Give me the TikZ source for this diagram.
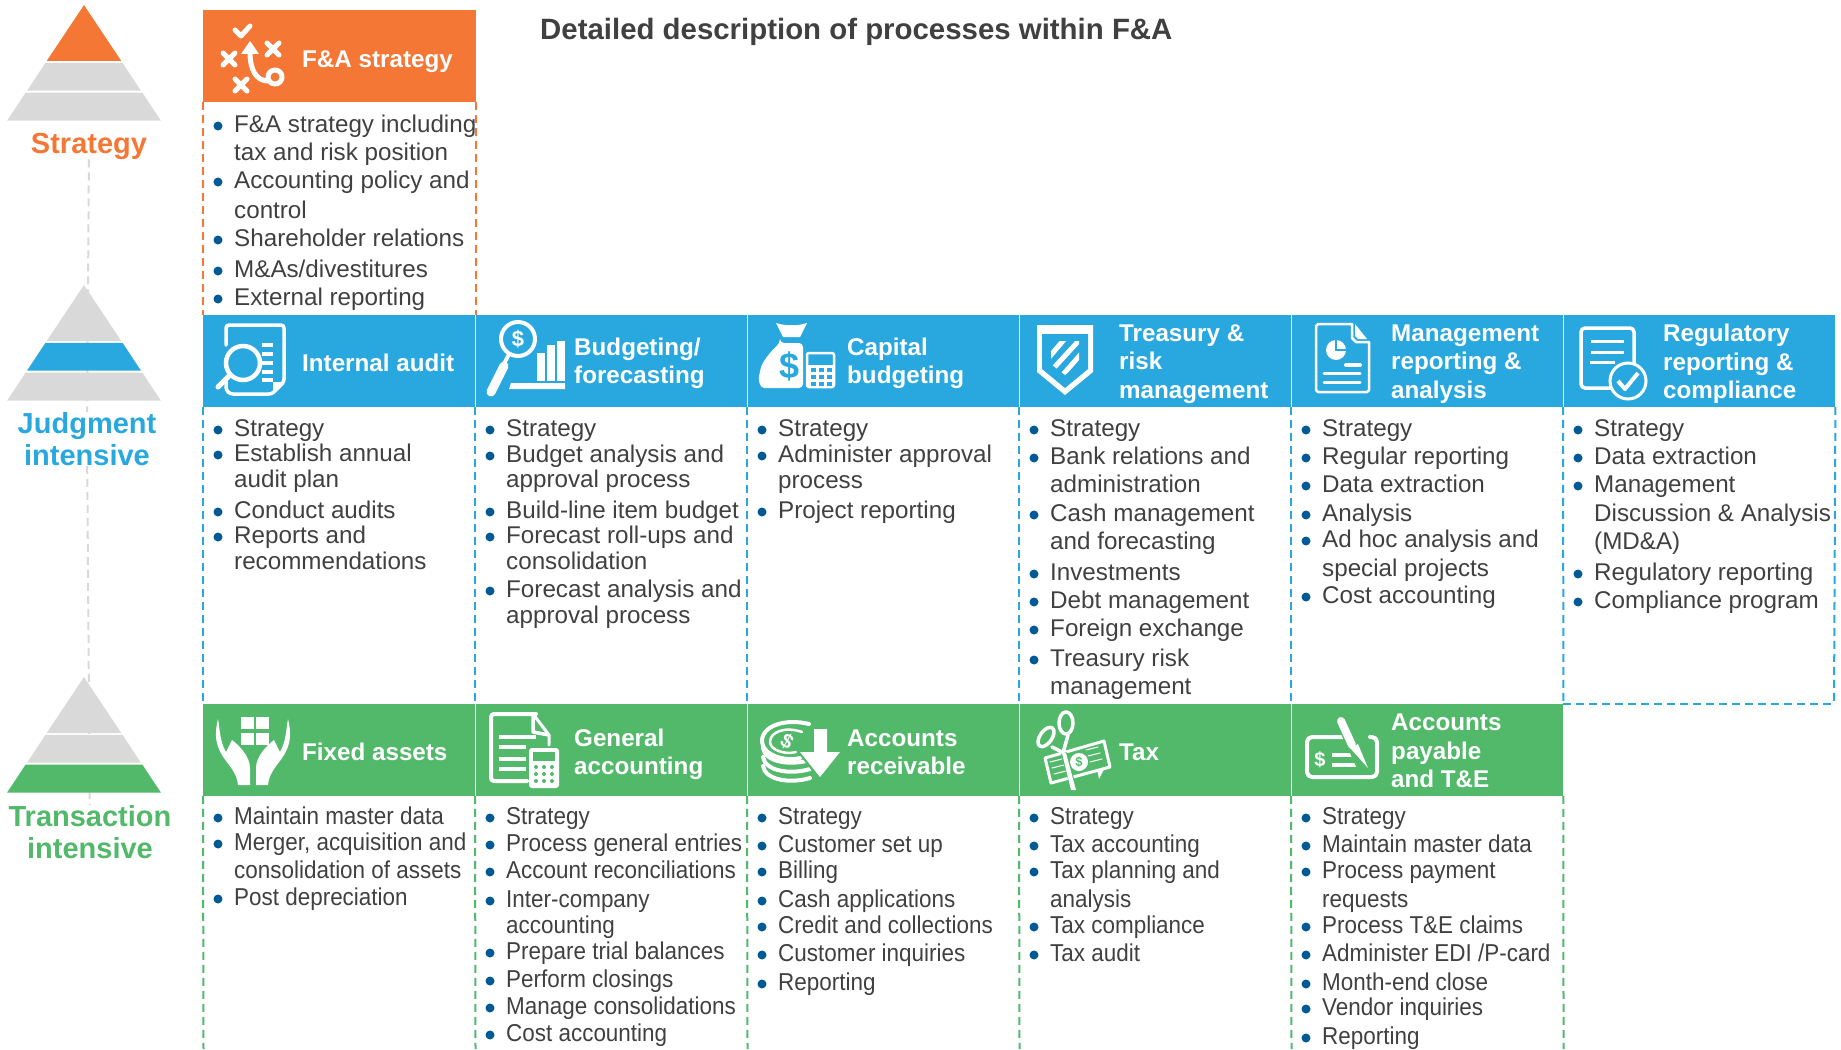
\documentclass[tikz,border=0pt]{standalone}
\usepackage{fontspec}
\setmainfont{Liberation Sans}
\newfontfamily\narrowfont[FakeStretch=0.92]{Liberation Sans}
\definecolor{orangecol}{HTML}{F47735}
\definecolor{bluecol}{HTML}{29A8E0}
\definecolor{greencol}{HTML}{52B96A}
\definecolor{greycol}{HTML}{D9D9D9}
\definecolor{textcol}{HTML}{404040}
\definecolor{dotcol}{HTML}{005A96}
\tikzstyle{head}=[anchor=north west, minimum width=272pt, minimum height=91.5pt, inner sep=0pt]
\tikzstyle{headtext}=[anchor=west, inner sep=0pt, align=left, text=white, font=\bfseries\fontsize{24.2}{28.4}\selectfont]
\tikzstyle{itemtext}=[anchor=west, inner sep=0pt, text=textcol, text height=16pt, text depth=0pt, font=\fontsize{24.2}{26}\selectfont]
\tikzstyle{dot}=[circle, fill=dotcol, inner sep=0pt, minimum size=9pt]
\tikzstyle{level}=[inner sep=0pt, align=center, font=\bfseries\fontsize{29}{32}\selectfont]
\tikzstyle{seam}=[dash pattern=on 8pt off 5pt, line width=2pt]
\tikzstyle{link}=[greycol, dash pattern=on 8pt off 5pt, line width=2pt]
\tikzstyle{icon}=[white, line width=4pt, line cap=round, line join=round]
\tikzstyle{glyph}=[inner sep=0pt, text=white, font=\bfseries\fontsize{20}{20}\selectfont]
\newcommand{\itemcol}[3]{
    \foreach \y/\txt in {#2} {
        \node[itemtext] (line-#1-\y) at (#1+31,\y) {\txt};
        \node[dot] (dot-#1-\y) at (#1+15,\y+2) {};
    }
    \foreach \y/\txt in {#3} {
        \node[itemtext] (line-#1-\y) at (#1+31,\y) {\txt};
    }
}
\newcommand{\pyramid}[4]{
    \begin{scope}[yshift=-#1pt]
        \fill[#2] (84,5) -- (121.3,61) -- (46.7,61) -- cycle;
        \fill[#3] (45.5,62.8) -- (122.5,62.8) -- (141,90.7) -- (27,90.7) -- cycle;
        \fill[#4] (25.6,92.7) -- (142.4,92.7) -- (161,120.7) -- (7,120.7) -- cycle;
    \end{scope}
}
\newcommand{\crossmark}[2]{
    \draw[icon, line width=5pt] (#1-6,#2-6) -- (#1+6,#2+6) (#1-6,#2+6) -- (#1+6,#2-6);
}
\begin{document}
\begin{tikzpicture}[x=1pt, y=-1pt]
    \useasboundingbox (0,0) rectangle (1841,1049);

    \node[inner sep=0pt, anchor=west, text=textcol, font=\bfseries\fontsize{29.4}{32}\selectfont] (title) at (540,32) {Detailed description of processes within F\&A};

    \node[level, text=orangecol] (strategy) at (89,146) {Strategy};
    \node[level, text=bluecol] (judgment) at (87,439) {Judgment\\intensive};
    \node[level, text=greencol] (transaction) at (90,832) {Transaction\\intensive};
    \draw[link] (strategy) -- (judgment);
    \draw[link] (judgment) -- (transaction);
    \pyramid{0}{orangecol}{greycol}{greycol}
    \pyramid{280}{greycol}{bluecol}{greycol}
    \pyramid{672}{greycol}{greycol}{greencol}

    \node[head, fill=orangecol, minimum width=273pt] (hStrategy) at (203,10) {};
    \node[head, fill=bluecol] (hAudit) at (203,315) {};
    \node[head, fill=bluecol] (hBudget) at (475,315) {};
    \node[head, fill=bluecol] (hCapital) at (747,315) {};
    \node[head, fill=bluecol] (hTreasury) at (1019,315) {};
    \node[head, fill=bluecol] (hManage) at (1291,315) {};
    \node[head, fill=bluecol] (hRegul) at (1563,315) {};
    \node[head, fill=greencol] (hAssets) at (203,704) {};
    \node[head, fill=greencol] (hGeneral) at (475,704) {};
    \node[head, fill=greencol] (hReceive) at (747,704) {};
    \node[head, fill=greencol] (hTax) at (1019,704) {};
    \node[head, fill=greencol] (hPayable) at (1291,704) {};
    \foreach \h in {hAudit,hBudget,hCapital,hTreasury,hManage,hAssets,hGeneral,hReceive,hTax}
        \draw[white, line width=1.2pt] (\h.north east) -- (\h.south east);

    \node[headtext] (tStrategy) at (302,62) {F\&A strategy};
    \node[headtext] (tAudit) at (302,363) {Internal audit};
    \node[headtext] (tBudget) at (574,363) {Budgeting/\\forecasting};
    \node[headtext] (tCapital) at (847,363) {Capital\\budgeting};
    \node[headtext] (tTreasury) at (1119,364) {Treasury \&\\risk\\management};
    \node[headtext] (tManage) at (1391,364) {Management\\reporting \&\\analysis};
    \node[headtext] (tRegul) at (1663,364) {Regulatory\\reporting \&\\compliance};
    \node[headtext] (tAssets) at (302,752) {Fixed assets};
    \node[headtext] (tGeneral) at (574,754) {General\\accounting};
    \node[headtext] (tReceive) at (847,752) {Accounts\\receivable};
    \node[headtext] (tTax) at (1119,752) {Tax};
    \node[headtext] (tPayable) at (1391,751) {Accounts\\payable\\and T\&E};

    \coordinate (regulEnd) at (1834,704);
    \coordinate (assetsEnd) at (203.5,1049);
    \coordinate (generalEnd) at (475.5,1049);
    \coordinate (receiveEnd) at (747.5,1049);
    \coordinate (taxEnd) at (1019.5,1049);
    \coordinate (payableEnd) at (1291.5,1049);
    \coordinate (lastEnd) at (1563.5,1049);
    \draw[seam, orangecol] (hStrategy.south west) -- (hAudit.north west);
    \draw[seam, orangecol] (hStrategy.south east) -- (hBudget.north east -| hStrategy.south east);
    \draw[seam, bluecol] (hAudit.south west) -- (hAssets.north west);
    \draw[seam, bluecol] (hBudget.south west) -- (hGeneral.north west);
    \draw[seam, bluecol] (hCapital.south west) -- (hReceive.north west);
    \draw[seam, bluecol] (hTreasury.south west) -- (hTax.north west);
    \draw[seam, bluecol] (hManage.south west) -- (hPayable.north west);
    \draw[seam, bluecol] (hRegul.south west) -- (hPayable.north east);
    \draw[seam, bluecol] (hRegul.south east) -- (regulEnd);
    \draw[seam, bluecol] (hPayable.north east) -- (regulEnd);
    \draw[seam, greencol] (hAssets.south west) -- (assetsEnd);
    \draw[seam, greencol] (hGeneral.south west) -- (generalEnd);
    \draw[seam, greencol] (hReceive.south west) -- (receiveEnd);
    \draw[seam, greencol] (hTax.south west) -- (taxEnd);
    \draw[seam, greencol] (hPayable.south west) -- (payableEnd);
    \draw[seam, greencol] (hPayable.south east) -- (lastEnd);

    \itemcol{203}{124/{F\&A strategy including},180/{Accounting policy and},238/{Shareholder relations},269/{M\&As/divestitures},297/{External reporting}}{152/{tax and risk position},210/{control}}
    \itemcol{203}{428/{Strategy},453/{Establish annual},510/{Conduct audits},535/{Reports and}}{479/{audit plan},561/{recommendations}}
    \itemcol{475}{428/{Strategy},454/{Budget analysis and},510/{Build-line item budget},535/{Forecast roll-ups and},589/{Forecast analysis and}}{479/{approval process},561/{consolidation},615/{approval process}}
    \itemcol{747}{428/{Strategy},454/{Administer approval},510/{Project reporting}}{480/{process}}
    \itemcol{1019}{428/{Strategy},456/{Bank relations and},513/{Cash management},572/{Investments},600/{Debt management},628/{Foreign exchange},658/{Treasury risk}}{484/{administration},541/{and forecasting},686/{management}}
    \itemcol{1291}{428/{Strategy},456/{Regular reporting},484/{Data extraction},513/{Analysis},539/{Ad hoc analysis and},595/{Cost accounting}}{568/{special projects}}
    \itemcol{1563}{428/{Strategy},456/{Data extraction},484/{Management},572/{Regulatory reporting},600/{Compliance program}}{513/{Discussion \& Analysis},541/{(MD\&A)}}
    \begin{scope}[yshift=1pt, itemtext/.append style={font=\narrowfont\fontsize{24.4}{26}\selectfont}]
        \itemcol{203}{817/{Maintain master data},843/{Merger, acquisition and},898/{Post depreciation}}{871/{consolidation of assets}}
        \itemcol{475}{817/{Strategy},844/{Process general entries},871/{Account reconciliations},900/{Inter-company},952/{Prepare trial balances},980/{Perform closings},1007/{Manage consolidations},1034/{Cost accounting}}{926/{accounting}}
        \itemcol{747}{817/{Strategy},845/{Customer set up},871/{Billing},900/{Cash applications},926/{Credit and collections},954/{Customer inquiries},983/{Reporting}}{}
        \itemcol{1019}{817/{Strategy},845/{Tax accounting},871/{Tax planning and},926/{Tax compliance},954/{Tax audit}}{900/{analysis}}
        \itemcol{1291}{817/{Strategy},845/{Maintain master data},871/{Process payment},926/{Process T\&E claims},954/{Administer EDI /P-card},983/{Month-end close},1008/{Vendor inquiries},1037/{Reporting}}{900/{requests}}
    \end{scope}

    \draw[icon, line width=5pt] (235,30) -- (241,36) -- (250,26);
    \crossmark{229}{59}
    \crossmark{273}{49}
    \crossmark{241}{85}
    \fill[white] (250,41) -- (259,54) -- (241,54) -- cycle;
    \draw[icon, line width=5pt] (250,52) .. controls (250,70) and (256,80) .. (267,81);
    \draw[icon, line width=5pt] (275,77) circle (7);

    \draw[icon, line width=3.5pt, rounded corners=3pt] (226,345) -- (226,325) -- (284,325) -- (284,382) -- (272,394) -- (230,394) -- (226,390) -- (226,378);
    \fill[white] (273,394) -- (284,382) -- (273,382) -- cycle;
    \foreach \y in {345,354,363,372,380} \draw[icon, line width=4pt, line cap=butt] (262,\y) -- (273,\y);
    \draw[white, line width=4.5pt, fill=bluecol] (243,363) circle (17);
    \draw[icon, line width=5pt] (230,375) -- (218,387);

    \draw[icon] (518,339) circle (17);
    \node[glyph, font=\bfseries\fontsize{22}{22}\selectfont] (dollarBudget) at (518,339) {\$};
    \draw[icon, line width=4pt] (508,356) -- (505,362);
    \draw[icon, line width=9pt] (504,366) -- (491,392);
    \fill[white] (537,353) rectangle (545,381);
    \fill[white] (547,345) rectangle (555,381);
    \fill[white] (557,341) rectangle (565,381);
    \fill[white] (511,383) -- (565,383) -- (565,389) -- (509,389) -- cycle;

    \fill[white] (776,323) .. controls (785,326) and (798,326) .. (807,323) -- (800,337) -- (783,337) -- cycle;
    \fill[white, rounded corners=4pt] (780,343) -- (803,343) -- (803,388) -- (768,388) .. controls (760,388) and (758,380) .. (760,372) .. controls (762,362) and (772,350) .. (780,343) -- cycle;
    \node[glyph, text=bluecol, font=\bfseries\fontsize{36}{36}\selectfont] (dollarCapital) at (789,366) {\$};
    \draw[icon, line width=2.5pt, rounded corners=2pt] (807,353) rectangle (834,387);
    \fill[white] (807,365) rectangle (834,387);
    \foreach \x in {811,819,827} \foreach \y in {368,375,382} \fill[bluecol] (\x,\y) rectangle +(5,4);

    \fill[white] (1037,325) -- (1093,325) -- (1093,372) -- (1065,395) -- (1037,372) -- cycle;
    \fill[bluecol] (1042,334) -- (1088,334) -- (1088,369) -- (1065,388) -- (1042,369) -- cycle;
    \begin{scope}
        \clip (1051,341) -- (1079,341) -- (1079,364) -- (1065,375) -- (1051,364) -- cycle;
        \draw[white, line width=5pt] (1045,362) -- (1068,335);
        \draw[white, line width=5pt] (1051,371) -- (1084,335);
        \draw[white, line width=5pt] (1060,378) -- (1088,346);
    \end{scope}

    \draw[icon, line width=2.5pt] (1352,324) -- (1318,324) -- (1316,326) -- (1316,390) -- (1318,392) -- (1367,392) -- (1369,390) -- (1369,342) -- (1356,342) -- (1352,338) -- cycle;
    \fill[white] (1355,324) -- (1367,339) -- (1358,339) -- (1355,336) -- cycle;
    \fill[white] (1336,350) circle (10);
    \draw[bluecol, line width=1.5pt] (1336,340) -- (1336,350) -- (1348,350);
    \draw[icon, line cap=round] (1346,365) -- (1360,365);
    \draw[icon, line width=3pt] (1324,373) -- (1360,373);
    \draw[icon, line width=3pt] (1324,382) -- (1360,382);

    \draw[icon, line width=3.5pt, rounded corners=4pt] (1581,328) rectangle (1634,388);
    \draw[icon, line width=3pt, line cap=butt] (1591,341) -- (1624,341);
    \draw[icon, line width=3pt, line cap=butt] (1591,352) -- (1624,352);
    \draw[icon, line width=3pt, line cap=butt] (1590,362) -- (1615,362);
    \draw[white, line width=3pt, fill=bluecol] (1628,381) circle (18);
    \draw[icon, line width=4pt, line cap=butt] (1618,381) -- (1625,389) -- (1638,373);

    \fill[white] (241,717) rectangle (254,729);
    \fill[white] (256,717) rectangle (269,729);
    \fill[white] (241,733) rectangle (254,745);
    \fill[white] (256,733) rectangle (269,745);
    \fill[white] (218,719) .. controls (214,735) and (216,745) .. (222,755) .. controls (228,765) and (237,772) .. (238,785) -- (250,785) -- (250,768) .. controls (250,757) and (240,746) .. (232,740) -- (226,752) .. controls (220,742) and (220,730) .. (218,719) -- cycle;
    \fill[white] (288,719) .. controls (292,735) and (290,745) .. (284,755) .. controls (278,765) and (269,772) .. (268,785) -- (256,785) -- (256,768) .. controls (256,757) and (266,746) .. (274,740) -- (280,752) .. controls (286,742) and (286,730) .. (288,719) -- cycle;

    \draw[icon, line width=4pt, rounded corners=3pt] (536,714) -- (491,714) -- (491,781) -- (527,781);
    \draw[icon, line width=3pt] (533,714) -- (549,735) -- (549,745);
    \draw[icon, line width=3.5pt, line cap=butt] (533,714) -- (533,732) -- (549,735);
    \draw[icon, line width=3.5pt, line cap=butt] (499,737) -- (536,737);
    \draw[icon, line width=3.5pt, line cap=butt] (499,747) -- (526,747);
    \draw[icon, line width=3.5pt, line cap=butt] (499,759) -- (526,759);
    \draw[icon, line width=3.5pt, line cap=butt] (499,769) -- (526,769);
    \fill[white, rounded corners=3pt] (529,748) rectangle (559,788);
    \fill[greencol] (533,752) rectangle (555,761);
    \foreach \x in {536,544,552} \foreach \y in {767,774,781} \fill[greencol] (\x,\y) circle (2);

    \foreach \y in {748,757,766} \draw[icon, line width=4pt] (763,\y) .. controls (765,\y+14) and (790,\y+18) .. (810,\y+12);
    \fill[greencol] (787,740) ellipse (27 and 20);
    \draw[icon, line width=4pt] (809,724) .. controls (785,718) and (761,726) .. (762,742) .. controls (763,755) and (785,762) .. (800,758);
    \draw[icon, line width=2.5pt] (802,732) .. controls (785,726) and (770,732) .. (770,742) .. controls (770,750) and (785,755) .. (796,752);
    \node[glyph, rotate=-30] (dollarReceive) at (787,741) {\$};
    \fill[greencol] (810,727) -- (831,727) -- (831,749) -- (845,749) -- (820,781) -- (795,749) -- (810,749) -- cycle;
    \fill[white] (814,729) -- (827,729) -- (827,752) -- (840,752) -- (820,777) -- (800,752) -- (814,752) -- cycle;

    \draw[icon, line width=3pt] (1045,758) -- (1104,741) -- (1110,767) -- (1051,783) -- cycle;
    \draw[icon, line width=1pt] (1050,762) -- (1062,759) (1052,768) -- (1064,765) (1054,774) -- (1066,771) (1086,750) -- (1098,747) (1088,756) -- (1100,753) (1090,762) -- (1102,759);
    \fill[white] (1079,762) circle (9);
    \node[glyph, text=greencol, font=\bfseries\fontsize{13}{13}\selectfont] (dollarTax) at (1079,762) {\$};
    \fill[white] (1097,769) -- (1104,769) -- (1099,779) -- cycle;
    \draw[icon, line width=3.5pt] (1066,723) ellipse (7 and 11);
    \draw[icon, line width=3.5pt, rotate around={-35:(1046,737)}] (1046,737) ellipse (6 and 11);
    \draw[icon, line width=3.5pt] (1068,735) -- (1063,753);
    \draw[icon, line width=3.5pt] (1052,747) -- (1064,753);
    \draw[greencol, line width=6pt] (1064,753) -- (1074,790);
    \fill[white] (1062,753) -- (1066,753) -- (1076,790) -- (1071,790) -- cycle;

    \draw[icon, line width=4pt, rounded corners=5pt] (1350,737) -- (1307,737) -- (1307,777) -- (1377,777) -- (1377,737) -- (1370,737);
    \node[glyph] (dollarPayable) at (1320,760) {\$};
    \draw[icon, line width=4pt, line cap=butt] (1332,755) -- (1352,755);
    \draw[icon, line width=4pt, line cap=butt] (1332,765) -- (1358,765);
    \draw[greencol, line width=12pt, line cap=butt] (1342,722) -- (1362,765);
    \draw[icon, line width=8pt] (1341,721) -- (1352,745);
    \fill[white] (1350,748) -- (1358,744) -- (1368,768) -- cycle;
\end{tikzpicture}
\end{document}
